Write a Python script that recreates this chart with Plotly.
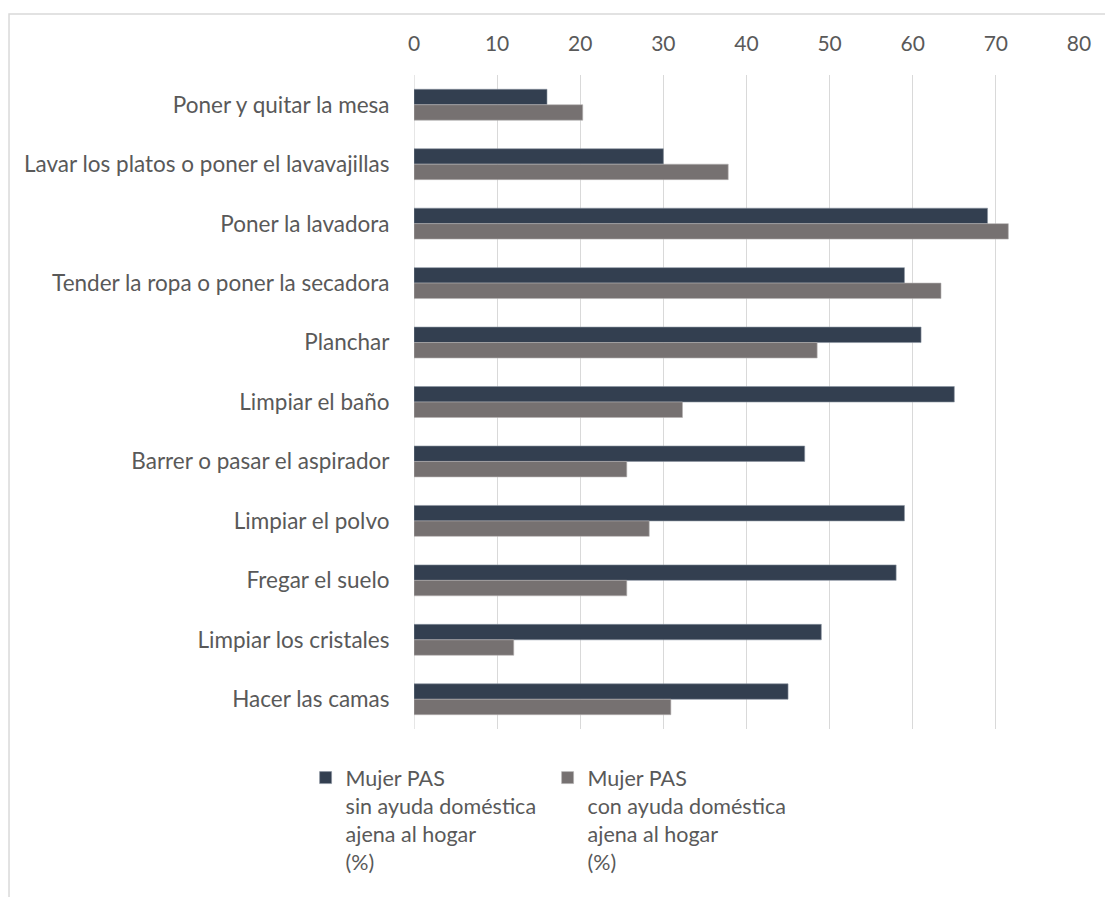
import plotly.graph_objects as go

# Tareas domésticas y porcentaje de mujeres PAS que las realizan
tareas = [
    "Poner y quitar la mesa",
    "Lavar los platos o poner el lavavajillas",
    "Poner la lavadora",
    "Tender la ropa o poner la secadora",
    "Planchar",
    "Limpiar el baño",
    "Barrer o pasar el aspirador",
    "Limpiar el polvo",
    "Fregar el suelo",
    "Limpiar los cristales",
    "Hacer las camas",
]
sin_ayuda = [16, 30, 69, 59, 61, 65, 47, 59, 58, 49, 45]
con_ayuda = [20.3, 37.8, 71.5, 63.4, 48.5, 32.3, 25.6, 28.3, 25.6, 12.0, 30.9]

serie_sin = "Mujer PAS<br>sin ayuda doméstica<br>ajena al hogar<br>(%)"
serie_con = "Mujer PAS<br>con ayuda doméstica<br>ajena al hogar<br>(%)"
x_ticks = [0, 10, 20, 30, 40, 50, 60, 70, 80]

FONT = "Lato, 'Open Sans', sans-serif"
TEXT = "#595959"
GRID = "#d9d9d9"

fig = go.Figure()
fig.add_trace(go.Bar(
    y=tareas, x=sin_ayuda, name=serie_sin, orientation="h",
    marker=dict(color="#333f50", line=dict(color="#8a93a0", width=0.6)),
))
fig.add_trace(go.Bar(
    y=tareas, x=con_ayuda, name=serie_con, orientation="h",
    marker=dict(color="#767171", line=dict(color="#b5b2b2", width=0.6)),
))

fig.update_layout(
    width=1105, height=897,
    margin=dict(l=414, r=26, t=75, b=168, autoexpand=False),
    paper_bgcolor="white", plot_bgcolor="white",
    font=dict(family=FONT, size=21, color=TEXT),
    barmode="group", bargap=0.48, bargroupgap=0,
    showlegend=True,
    legend=dict(
        orientation="h", x=-0.163, xanchor="left", y=-0.043, yanchor="top",
        valign="top", font=dict(size=21.5, color=TEXT),
        entrywidth=197, entrywidthmode="pixels",
        traceorder="normal", itemclick=False,
    ),
    shapes=[dict(
        type="rect", xref="paper", yref="paper",
        x0=-0.609, x1=1.1, y0=-0.3, y1=1 + (75 - 14) / 654,
        line=dict(color=GRID, width=1.5), fillcolor="rgba(0,0,0,0)", layer="below",
    )],
)

fig.update_xaxes(
    side="top", range=[0, 80], tickvals=x_ticks,
    showgrid=True, gridcolor=GRID, gridwidth=1.3,
    zeroline=False, showline=False,
    ticks="outside", ticklen=15, tickcolor="rgba(0,0,0,0)",
    tickfont=dict(size=21, color=TEXT),
)
fig.update_yaxes(
    autorange="reversed", showgrid=False, showline=False, zeroline=False,
    ticks="outside", ticklen=19, tickcolor="rgba(0,0,0,0)",
    tickfont=dict(size=22.5, color=TEXT),
)
# the 0 gridline drawn as the value axis baseline
fig.add_vline(x=0, line=dict(color=GRID, width=1.3), layer="below")

fig.write_html("out.html")
